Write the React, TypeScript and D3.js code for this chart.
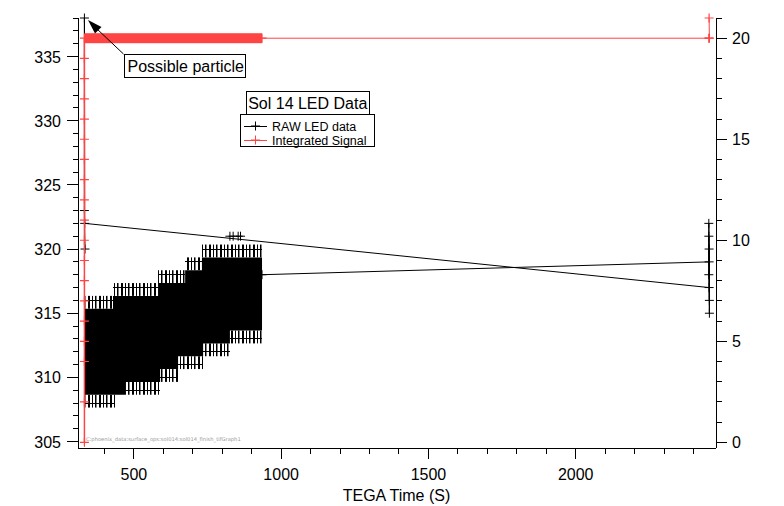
import * as d3 from "d3";
import React from "react";

const W = 784,
  H = 506;

// axis ticks
const xMajor = [500, 1000, 1500, 2000];
const leftMajor = [305, 310, 315, 320, 325, 330, 335];
const rightMajor = [0, 5, 10, 15, 20];

// RAW LED data: the dense part is kept as step envelopes
const cloudEnd = 935;
const topT = [332, 429, 582, 674, 731];
const topV = [315, 316, 317, 318, 319];
const botT = [332, 473, 589, 650, 735, 826];
const botV = [309, 310, 311, 312, 313, 314];
// sparse rows just outside the envelope (side 1 = above, -1 = below)
const combT0 = [332, 429, 582, 674, 731, 332, 473, 589, 650, 735, 826];
const combT1 = [429, 582, 674, 731, 935, 436, 589, 650, 735, 826, 935];
const combV = [316, 317, 318, 319, 320, 308, 309, 310, 311, 312, 313];
const combSide = [1, 1, 1, 1, 1, -1, -1, -1, -1, -1, -1];
// single points
const strayT = [826, 837, 854, 862];
const strayV = [321, 321, 321, 321];
const preT = [2453, 333, 332, 332, 334];
const preV = [317, 322, 338, 323, 320];
const postT = [935, 2453, 2452, 2454, 2452, 2454, 2453, 2452];
const postV = [318, 319, 322, 316, 321, 315, 320, 318];

// Integrated Signal
const intRiseT = 332;
const intRiseV = [0, 2, 4, 5, 6, 7, 8, 9, 10, 11, 12, 13, 14, 15, 16, 17, 18, 19, 20];
const intPlateau = 20;
const intTailT = [935, 2452, 2454, 2453];
const intTailV = [20, 20, 20, 21];

const RED = "#ff4444";
const FONT = "'Liberation Sans', Arial, Helvetica, sans-serif";

export default function App() {
  const x = d3.scaleLinear().domain([310.2, 2473]).range([78, 715]);
  const yL = d3.scaleLinear().domain([304.5, 338]).range([448, 18]);
  const yR = d3.scaleLinear().domain([-0.28, 21]).range([448, 18]);
  const arm = 4.5;
  const plus = (cx: number, cy: number) =>
    `M${cx - arm},${cy}H${cx + arm}M${cx},${cy - arm}V${cy + arm}`;

  // cloud polygon
  const poly: [number, number][] = [];
  topT.forEach((t, i) => {
    const y = yL(topV[i]) - arm;
    poly.push([x(t), y], [x(topT[i + 1] ?? cloudEnd), y]);
  });
  for (let i = botT.length - 1; i >= 0; i--) {
    const y = yL(botV[i]) + arm;
    poly.push([x(botT[i + 1] ?? cloudEnd), y], [x(botT[i]), y]);
  }

  const line = d3.line<[number, number]>();
  const prePts = preT.map((t, i) => [x(t), yL(preV[i])] as [number, number]);
  const postPts = postT.map((t, i) => [x(t), yL(postV[i])] as [number, number]);
  const risePts = intRiseV.map((v) => [x(intRiseT), yR(v)] as [number, number]);
  const tailPts = intTailT.map((t, i) => [x(t), yR(intTailV[i])] as [number, number]);

  const leftMinor = d3.range(305, 339).filter((v) => v % 5 !== 0);
  const rightMinor = d3.range(0, 22).filter((v) => v % 5 !== 0);
  const xMinor = d3.range(400, 2500, 100).filter((v) => v % 500 !== 0);

  const axis = { stroke: "#000", strokeWidth: 1, shapeRendering: "crispEdges" as const };
  const tickText = { fontFamily: FONT, fontSize: 16, fill: "#000" };

  return (
    <svg
      width={W}
      height={H}
      style={{ position: "absolute", left: 0, top: 0, background: "#fff" }}
    >
      <defs>
        <pattern id="comb" width="11" height="20" patternUnits="userSpaceOnUse">
          <rect x="0" y="0" width="2" height="20" fill="#000" />
          <rect x="4" y="0" width="1" height="20" fill="#000" />
          <rect x="7" y="0" width="1.5" height="20" fill="#000" />
        </pattern>
      </defs>
      <rect width={W} height={H} fill="#fff" />

      {/* watermark */}
      <text x={86} y={441} fontFamily="'DejaVu Sans', sans-serif" fontSize={5.2} fill="#9a9a9a">
        C:phoenix_data:surface_ops:sol014:sol014_finish_tifGraph1
      </text>

      {/* RAW LED data */}
      <g>
        <path d={line(prePts) ?? ""} fill="none" stroke="#000" strokeWidth={1} />
        <path d={line(postPts) ?? ""} fill="none" stroke="#000" strokeWidth={1} />
        <polygon points={poly.map((p) => p.join(",")).join(" ")} fill="#000" />
        {combT0.map((t0, j) => {
          const xa = x(t0),
            xb = x(combT1[j]),
            v = combV[j];
          const y0 = combSide[j] > 0 ? yL(v) - arm : yL(v + 1) + arm;
          const y1 = combSide[j] > 0 ? yL(v - 1) - arm : yL(v) + arm;
          return (
            <g key={"c" + j}>
              <rect x={xa} y={y0} width={xb - xa} height={y1 - y0} fill="url(#comb)" />
              <line x1={xa} x2={xb} y1={yL(v)} y2={yL(v)} {...axis} />
            </g>
          );
        })}
        {strayT.map((t, i) => (
          <path key={"s" + i} d={plus(x(t), yL(strayV[i]))} stroke="#000" fill="none" />
        ))}
        {[...prePts, ...postPts].map((p, i) => (
          <path key={"m" + i} d={plus(p[0], p[1])} stroke="#000" fill="none" />
        ))}
      </g>

      {/* Integrated Signal */}
      <g>
        <path d={line(risePts) ?? ""} fill="none" stroke={RED} strokeWidth={1.5} />
        <path d={line(tailPts) ?? ""} fill="none" stroke={RED} strokeWidth={1} />
        <rect
          x={x(intRiseT)}
          y={yR(intPlateau) - arm - 0.5}
          width={x(cloudEnd) - x(intRiseT)}
          height={2 * arm + 1}
          fill={RED}
        />
        {[...risePts, ...tailPts].map((p, i) => (
          <path key={"r" + i} d={plus(p[0], p[1])} stroke={RED} strokeWidth={1.2} fill="none" />
        ))}
      </g>

      {/* left axis */}
      <line x1={78} x2={78} y1={18} y2={448} {...axis} />
      {leftMinor.map((v) => (
        <line key={"lm" + v} x1={72.5} x2={78} y1={yL(v)} y2={yL(v)} {...axis} />
      ))}
      {leftMajor.map((v) => (
        <g key={"lM" + v}>
          <line x1={67} x2={78} y1={yL(v)} y2={yL(v)} {...axis} />
          <text x={61} y={yL(v) + 6} textAnchor="end" {...tickText}>
            {v}
          </text>
        </g>
      ))}

      {/* right axis */}
      <line x1={716} x2={716} y1={18} y2={448} {...axis} />
      {rightMinor.map((v) => (
        <line key={"rm" + v} x1={716} x2={721.5} y1={yR(v)} y2={yR(v)} {...axis} />
      ))}
      {rightMajor.map((v) => (
        <g key={"rM" + v}>
          <line x1={716} x2={727} y1={yR(v)} y2={yR(v)} {...axis} />
          <text x={732} y={yR(v) + 6} {...tickText}>
            {v}
          </text>
        </g>
      ))}

      {/* bottom axis */}
      <line x1={78} x2={716} y1={448} y2={448} {...axis} />
      {xMinor.map((v) => (
        <line key={"xm" + v} x1={x(v)} x2={x(v)} y1={448} y2={453.5} {...axis} />
      ))}
      {xMajor.map((v) => (
        <g key={"xM" + v}>
          <line x1={x(v)} x2={x(v)} y1={448} y2={459} {...axis} />
          <text x={x(v)} y={480} textAnchor="middle" {...tickText}>
            {v}
          </text>
        </g>
      ))}
      <text x={396.5} y={501} textAnchor="middle" {...tickText}>
        TEGA Time (S)
      </text>

      {/* annotation */}
      <line x1={123.5} y1={54} x2={96} y2={28} stroke="#000" strokeWidth={1} />
      <polygon points="88,20 101.5,27 95,33.5" fill="#000" />
      <rect x={124.5} y={54.5} width={121} height={23} fill="#fff" stroke="#000" shapeRendering="crispEdges" />
      <text x={127.5} y={72} {...tickText}>
        Possible particle
      </text>

      {/* legend */}
      <rect x={246.5} y={91.5} width={122.5} height={23} fill="#fff" stroke="#000" shapeRendering="crispEdges" />
      <text x={307.75} y={109} textAnchor="middle" {...tickText}>
        Sol 14 LED Data
      </text>
      <rect x={240.5} y={114.5} width={134} height={32} fill="#fff" stroke="#000" shapeRendering="crispEdges" />
      <line x1={244} x2={267} y1={126} y2={126} {...axis} />
      <path d={plus(255.5, 126)} stroke="#000" fill="none" />
      <text x={272} y={130.5} fontFamily={FONT} fontSize={12.5}>
        RAW LED data
      </text>
      <line x1={244} x2={267} y1={140} y2={140} stroke={RED} shapeRendering="crispEdges" />
      <path d={plus(255.5, 140)} stroke={RED} fill="none" />
      <text x={272} y={145} fontFamily={FONT} fontSize={12.5}>
        Integrated Signal
      </text>
    </svg>
  );
}
